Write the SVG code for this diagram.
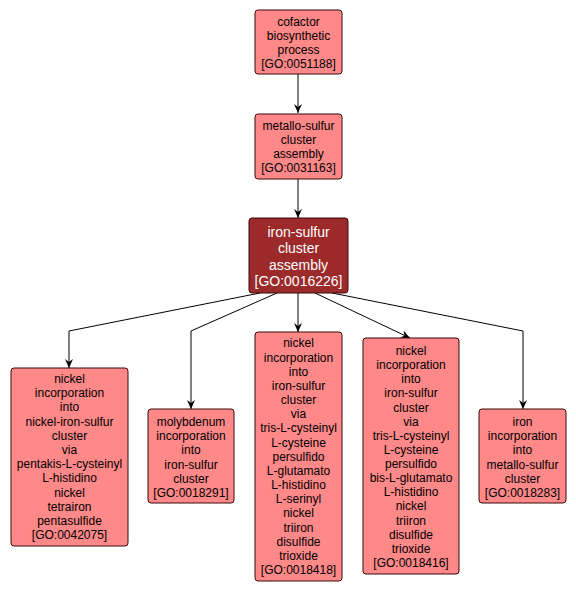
<svg xmlns="http://www.w3.org/2000/svg" width="576" height="593" viewBox="0 0 576 593">
<style>
.n{fill:#ff8888;stroke:#3a0a0a;stroke-width:1}
.d{fill:#9c2a2a;stroke:#3a0a0a;stroke-width:1}
.t{font-family:"Liberation Sans",Arial,sans-serif;font-size:12px;fill:#000;text-anchor:middle}
.w{font-family:"Liberation Sans",Arial,sans-serif;font-size:14px;fill:#fff;text-anchor:middle}
.e{fill:none;stroke:#000;stroke-width:1}
</style>
<defs>
<marker id="a" markerWidth="10" markerHeight="10" refX="9" refY="5" orient="auto" markerUnits="userSpaceOnUse">
<path d="M0,1 L9,5 L0,9 L3,5 z" fill="#000"/>
</marker>
</defs>
<rect width="576" height="593" fill="#fff"/>
<g id="edges">
<path class="e" d="M298,74 L298,113" marker-end="url(#a)"/>
<path class="e" d="M298,179 L298,218" marker-end="url(#a)"/>
<path class="e" d="M260,293 L69,331 L69,368" marker-end="url(#a)"/>
<path class="e" d="M277,293 L191,331 L191,409" marker-end="url(#a)"/>
<path class="e" d="M298,293 L298,332" marker-end="url(#a)"/>
<path class="e" d="M315,293 L410,338" marker-end="url(#a)"/>
<path class="e" d="M332,293 L523,331 L523,409" marker-end="url(#a)"/>
</g>
<g id="GO0051188">
<rect class="n" x="255" y="10" width="87" height="64" rx="3"/>
<text class="t" x="298.5" y="26">cofactor</text>
<text class="t" x="298.5" y="40">biosynthetic</text>
<text class="t" x="298.5" y="54">process</text>
<text class="t" x="298.5" y="68">[GO:0051188]</text>
</g>
<g id="GO0031163">
<rect class="n" x="255" y="114" width="87" height="65" rx="3"/>
<text class="t" x="298.5" y="130">metallo-sulfur</text>
<text class="t" x="298.5" y="144">cluster</text>
<text class="t" x="298.5" y="158">assembly</text>
<text class="t" x="298.5" y="172">[GO:0031163]</text>
</g>
<g id="GO0016226">
<rect class="d" x="249" y="218" width="99" height="75" rx="3"/>
<text class="w" x="298.5" y="237">iron-sulfur</text>
<text class="w" x="298.5" y="253">cluster</text>
<text class="w" x="298.5" y="270">assembly</text>
<text class="w" x="298.5" y="286">[GO:0016226]</text>
</g>
<g id="GO0042075">
<rect class="n" x="11" y="368" width="117" height="178" rx="3"/>
<text class="t" x="69.5" y="383">nickel</text>
<text class="t" x="69.5" y="397.2">incorporation</text>
<text class="t" x="69.5" y="411.4">into</text>
<text class="t" x="69.5" y="425.6">nickel-iron-sulfur</text>
<text class="t" x="69.5" y="439.8">cluster</text>
<text class="t" x="69.5" y="454">via</text>
<text class="t" x="69.5" y="468.2">pentakis-L-cysteinyl</text>
<text class="t" x="69.5" y="482.4">L-histidino</text>
<text class="t" x="69.5" y="496.6">nickel</text>
<text class="t" x="69.5" y="510.8">tetrairon</text>
<text class="t" x="69.5" y="525">pentasulfide</text>
<text class="t" x="69.5" y="539.2">[GO:0042075]</text>
</g>
<g id="GO0018291">
<rect class="n" x="148" y="409" width="86" height="94" rx="3"/>
<text class="t" x="191" y="426">molybdenum</text>
<text class="t" x="191" y="440.2">incorporation</text>
<text class="t" x="191" y="454.4">into</text>
<text class="t" x="191" y="468.6">iron-sulfur</text>
<text class="t" x="191" y="482.8">cluster</text>
<text class="t" x="191" y="497">[GO:0018291]</text>
</g>
<g id="GO0018418">
<rect class="n" x="255" y="332" width="87" height="249" rx="3"/>
<text class="t" x="298.5" y="347.3">nickel</text>
<text class="t" x="298.5" y="361.5">incorporation</text>
<text class="t" x="298.5" y="375.6">into</text>
<text class="t" x="298.5" y="389.8">iron-sulfur</text>
<text class="t" x="298.5" y="404">cluster</text>
<text class="t" x="298.5" y="418.2">via</text>
<text class="t" x="298.5" y="432.3">tris-L-cysteinyl</text>
<text class="t" x="298.5" y="446.5">L-cysteine</text>
<text class="t" x="298.5" y="460.7">persulfido</text>
<text class="t" x="298.5" y="474.8">L-glutamato</text>
<text class="t" x="298.5" y="489">L-histidino</text>
<text class="t" x="298.5" y="503.2">L-serinyl</text>
<text class="t" x="298.5" y="517.3">nickel</text>
<text class="t" x="298.5" y="531.5">triiron</text>
<text class="t" x="298.5" y="545.7">disulfide</text>
<text class="t" x="298.5" y="559.8">trioxide</text>
<text class="t" x="298.5" y="574">[GO:0018418]</text>
</g>
<g id="GO0018416">
<rect class="n" x="363" y="338" width="96" height="236" rx="3"/>
<text class="t" x="411" y="355">nickel</text>
<text class="t" x="411" y="369.1">incorporation</text>
<text class="t" x="411" y="383.3">into</text>
<text class="t" x="411" y="397.4">iron-sulfur</text>
<text class="t" x="411" y="411.5">cluster</text>
<text class="t" x="411" y="425.7">via</text>
<text class="t" x="411" y="439.8">tris-L-cysteinyl</text>
<text class="t" x="411" y="453.9">L-cysteine</text>
<text class="t" x="411" y="468">persulfido</text>
<text class="t" x="411" y="482.2">bis-L-glutamato</text>
<text class="t" x="411" y="496.3">L-histidino</text>
<text class="t" x="411" y="510.4">nickel</text>
<text class="t" x="411" y="524.6">triiron</text>
<text class="t" x="411" y="538.7">disulfide</text>
<text class="t" x="411" y="552.8">trioxide</text>
<text class="t" x="411" y="567">[GO:0018416]</text>
</g>
<g id="GO0018283">
<rect class="n" x="479" y="409" width="87" height="94" rx="3"/>
<text class="t" x="522.5" y="426">iron</text>
<text class="t" x="522.5" y="440.2">incorporation</text>
<text class="t" x="522.5" y="454.4">into</text>
<text class="t" x="522.5" y="468.6">metallo-sulfur</text>
<text class="t" x="522.5" y="482.8">cluster</text>
<text class="t" x="522.5" y="497">[GO:0018283]</text>
</g>
</svg>
